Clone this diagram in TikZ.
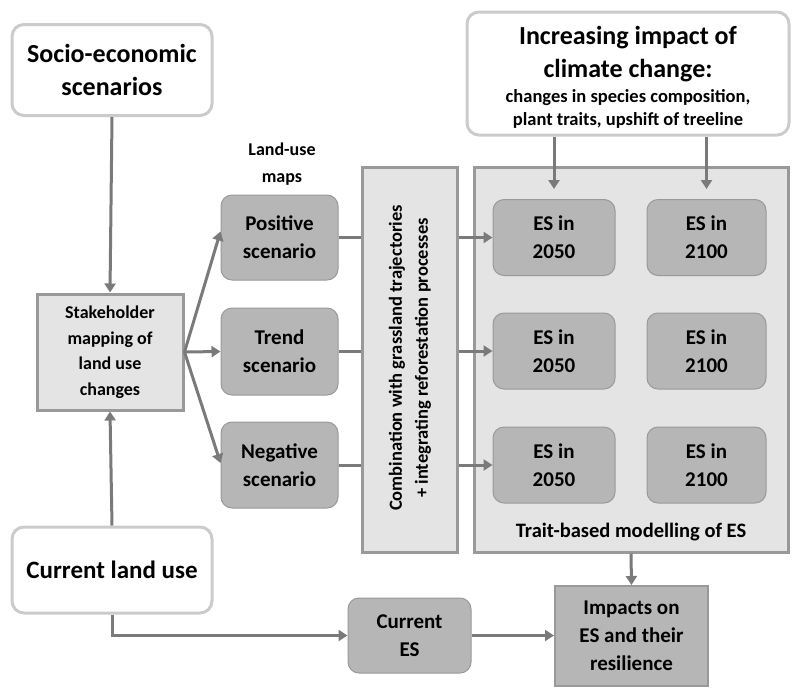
\documentclass[tikz,border=0pt]{standalone}
\usepackage{fontspec}
\setmainfont{Carlito}
\usetikzlibrary{arrows.meta,calc}
\definecolor{lightfill}{HTML}{E4E4E4}
\definecolor{darkfill}{HTML}{B6B6B6}
\definecolor{lineg}{HTML}{7A7A7A}
\definecolor{borderg}{HTML}{999999}
\definecolor{paleborder}{HTML}{CBCBCB}
\newcommand{\smallcl}{\fontsize{18.5}{23}\selectfont}
\tikzset{
  whitebox/.style={draw=paleborder, line width=3pt, fill=white, rounded corners=12pt, align=center, inner sep=0pt},
  lightbox/.style={draw=borderg, line width=3pt, fill=lightfill, align=center, inner sep=0pt},
  scenbox/.style={draw=borderg, line width=1pt, fill=darkfill, rounded corners=11pt, align=center, inner sep=0pt, font=\fontsize{21}{28}\selectfont\bfseries},
  esbox/.style={scenbox, minimum height=76pt},
  arr/.style={draw=lineg, line width=3pt, -{Triangle[length=9pt,width=11pt]}},
  ln/.style={draw=lineg, line width=3pt},
}
\begin{document}
\begin{tikzpicture}[x=1pt,y=-1pt]
\useasboundingbox (0,0) rectangle (800,697);
% top-left
\node[whitebox, minimum width=200pt, minimum height=91pt, font=\fontsize{26}{33}\selectfont\bfseries] (socio) at (112,70) {Socio-economic\\scenarios};
\node[lightbox, minimum width=146pt, minimum height=116pt, font=\fontsize{18}{25.5}\selectfont\bfseries] (stake) at (110,352) {Stakeholder\\mapping of\\land use\\changes};
\node[whitebox, minimum width=200pt, minimum height=86pt, font=\fontsize{25}{30}\selectfont\bfseries] (curlu) at (112,570) {Current land use};
% land-use maps
\node[align=center, font=\fontsize{18}{27}\selectfont\bfseries] (lumaps) at (282,164) {Land-use\\maps};
\node[scenbox, minimum width=117pt, minimum height=85pt] (pos) at (279.5,237.5) {Positive\\scenario};
\node[scenbox, minimum width=117pt, minimum height=87pt] (trend) at (279.5,351.5) {Trend\\scenario};
\node[scenbox, minimum width=117pt, minimum height=86pt] (neg) at (279.5,465) {Negative\\scenario};
% combination
\node[lightbox, minimum width=95pt, minimum height=385pt] (comb) at (409.5,359.5) {};
\node[rotate=90, align=center, font=\fontsize{18.5}{26}\selectfont\bfseries] (combtext) at (410,358) {Combination with grassland trajectories\\+ integrating reforestation processes};
% trait-based
\node[lightbox, minimum width=314pt, minimum height=385pt] (trait) at (631,359.5) {};
\node[font=\fontsize{20.5}{24}\selectfont\bfseries] (traitlab) at (631,532) {Trait-based modelling of ES};
\node[esbox, minimum width=122pt] (e1a) at (554,237.5) {ES in\\2050};
\node[esbox, minimum width=119pt] (e1b) at (706.5,237.5) {ES in\\2100};
\node[esbox, minimum width=122pt] (e2a) at (554,351) {ES in\\2050};
\node[esbox, minimum width=119pt] (e2b) at (706.5,351) {ES in\\2100};
\node[esbox, minimum width=122pt] (e3a) at (554,465) {ES in\\2050};
\node[esbox, minimum width=119pt] (e3b) at (706.5,465) {ES in\\2100};
% climate
\node[whitebox, minimum width=322pt, minimum height=123pt] (clim) at (628,73.5) {};
\node[align=center, inner sep=0pt, font=\fontsize{26}{33}\selectfont\bfseries] (climtext) at (628,79)
  {Increasing impact of\\climate change:\\[3pt]{\smallcl\begin{tabular}{@{}c@{}}changes in species composition,\\plant traits, upshift of treeline\end{tabular}}};
% bottom
\node[scenbox, minimum width=123pt, minimum height=75pt] (cures) at (409.5,635.5) {Current\\ES};
\node[draw=borderg, line width=2pt, fill=darkfill, minimum width=153pt, minimum height=100pt, align=center, inner sep=0pt, font=\fontsize{21}{28}\selectfont\bfseries] (impact) at (631.5,636) {Impacts on\\ES and their\\resilience};
% connectors
\draw[arr] (socio.south) -- (stake.north);
\draw[arr] (curlu.north) -- (stake.south);
\draw[arr] (stake.east) -- ($(pos.west)+(0,-6)$);
\draw[arr] (stake.east) -- (trend.west);
\draw[arr] (stake.east) -- ($(neg.west)+(0,-2)$);
\draw[ln] (pos.east) -- (pos.east -| comb.west);
\draw[ln] (trend.east) -- (trend.east -| comb.west);
\draw[ln] (neg.east) -- (neg.east -| comb.west);
\draw[arr] (comb.east |- e1a.west) -- (e1a.west);
\draw[arr] (comb.east |- e2a.west) -- (e2a.west);
\draw[arr] (comb.east |- e3a.west) -- (e3a.west);
\draw[arr, shorten >=10pt] (clim.south -| e1a.north) -- (e1a.north);
\draw[arr, shorten >=10pt] (clim.south -| e1b.north) -- (e1b.north);
\draw[arr] (trait.south) -- (impact.north);
\draw[arr] (cures.east) -- (cures.east -| impact.west);
\draw[arr] (curlu.south) |- (cures.west);
\end{tikzpicture}
\end{document}
